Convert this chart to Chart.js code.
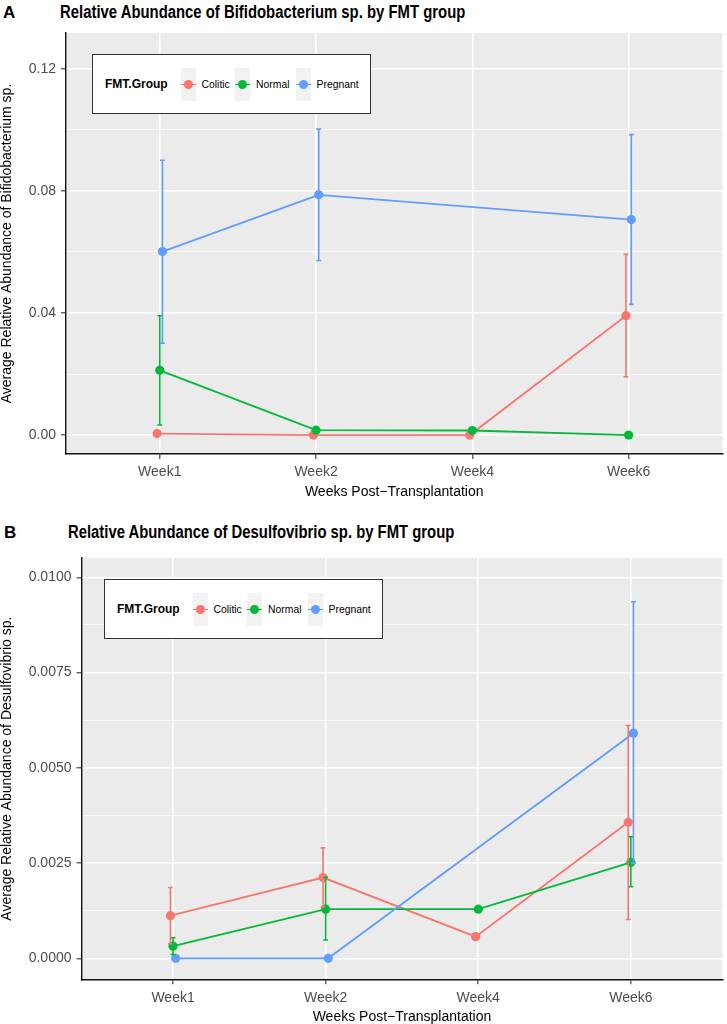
<!DOCTYPE html>
<html lang="en">
<head>
  <meta charset="UTF-8" />
  <title>Relative Abundance by FMT group</title>
  <script src="https://cdn.jsdelivr.net/npm/chart.js"></script>
  <style>
    body { margin: 0; background: #fff; font-family: 'Liberation Sans', Arial, Helvetica, sans-serif; }
    #page { position: relative; width: 727px; height: 1024px; overflow: hidden; }
    canvas { position: absolute; left: 0; }
    .letter, .title { position: absolute; font-weight: bold; color: #000; line-height: 1; white-space: nowrap; }
    .letter { font-size: 17px; }
    .title { font-size: 18px; transform-origin: left center; }
    .legend { position: absolute; width: 277px; height: 58px; background: #fff; border: 1px solid #333; }
    .legend span { position: absolute; top: 29px; transform: translateY(-50%); white-space: nowrap; }
    .legend .lt { font-weight: bold; font-size: 12px; left: 12px; }
    .legend .lab { font-size: 10.4px; color: #000; }
    .key { position: absolute; top: 13px; width: 15px; height: 33px; background: #F2F2F2; }
    .key i { position: absolute; left: 0; top: 15.6px; width: 15px; height: 1.8px; }
    .key b { position: absolute; left: 3px; top: 12px; width: 9px; height: 9px; border-radius: 50%; }
  </style>
</head>
<body>
<div id="page">
  <div class="letter" style="left:3px; top:4px;">A</div>
  <div class="title" id="titleA" style="left:60px; top:3px;">Relative Abundance of Bifidobacterium sp. by FMT group</div>
  <canvas id="chartA" width="727" height="512" style="top:0;"></canvas>
  <div class="legend" id="legendA" style="left:92px; top:54px;"></div>

  <div class="letter" style="left:4px; top:524px;">B</div>
  <div class="title" id="titleB" style="left:68px; top:523px;">Relative Abundance of Desulfovibrio sp. by FMT group</div>
  <canvas id="chartB" width="727" height="512" style="top:512px;"></canvas>
  <div class="legend" id="legendB" style="left:104px; top:579px;"></div>
</div>

<script>
  // categories and groups
  const weeks = ['Week1', 'Week2', 'Week4', 'Week6'];
  const groups = ['Colitic', 'Normal', 'Pregnant'];
  const groupColors = ['#F8766D', '#00BA38', '#619CFF'];

  // panel A: Bifidobacterium sp. (mean, lower, upper)
  const bifColitic    = [0.0005, 0.0000, 0.0000, 0.0391];
  const bifColiticLo  = [null, null, null, 0.0191];
  const bifColiticHi  = [null, null, null, 0.0592];
  const bifNormal     = [0.0212, 0.0016, 0.0015, 0.0000];
  const bifNormalLo   = [0.0033, null, null, null];
  const bifNormalHi   = [0.0391, null, null, null];
  const bifPregnant   = [0.0601, 0.0787, null, 0.0706];
  const bifPregnantLo = [0.0301, 0.0572, null, 0.0428];
  const bifPregnantHi = [0.0900, 0.1002, null, 0.0984];
  const bifTicks = [0, 0.02, 0.04, 0.06, 0.08, 0.10, 0.12];

  // panel B: Desulfovibrio sp.
  const desColitic    = [0.00112, 0.00212, 0.00057, 0.00357];
  const desColiticLo  = [0.00038, 0.00135, null, 0.00102];
  const desColiticHi  = [0.00186, 0.00290, null, 0.00611];
  const desNormal     = [0.00032, 0.00129, 0.00129, 0.00252];
  const desNormalLo   = [0.00010, 0.00048, null, 0.00188];
  const desNormalHi   = [0.00054, 0.00213, null, 0.00319];
  const desPregnant   = [0.00000, 0.00000, null, 0.00591];
  const desPregnantLo = [null, null, null, 0.00250];
  const desPregnantHi = [null, null, null, 0.00936];
  const desTicks = [0, 0.00125, 0.0025, 0.00375, 0.005, 0.00625, 0.0075, 0.00875, 0.01];

  const dodge = [-0.017, 0, 0.017];
  const FONT = "'Liberation Sans', Arial, Helvetica, sans-serif";

  const panelBg = {
    id: 'panelBg',
    beforeDraw(chart) {
      const { ctx, chartArea: a } = chart;
      ctx.save();
      ctx.fillStyle = '#EBEBEB';
      ctx.fillRect(a.left, a.top, a.right - a.left, a.bottom - a.top);
      ctx.restore();
    }
  };

  const errBars = {
    id: 'errBars',
    afterDatasetsDraw(chart) {
      const { ctx } = chart;
      const xs = chart.scales.x, ys = chart.scales.y;
      chart.data.datasets.forEach(ds => {
        if (!ds.errLo) return;
        ctx.save();
        ctx.strokeStyle = ds.backgroundColor;
        ctx.lineWidth = 1.6;
        ds.errLo.forEach((lo, j) => {
          const hi = ds.errHi[j];
          if (lo == null || hi == null) return;
          const x = xs.getPixelForValue(j + ds.dodge);
          const y1 = ys.getPixelForValue(lo), y2 = ys.getPixelForValue(hi);
          ctx.beginPath();
          ctx.moveTo(x, y1); ctx.lineTo(x, y2);
          ctx.moveTo(x - 2.4, y1); ctx.lineTo(x + 2.4, y1);
          ctx.moveTo(x - 2.4, y2); ctx.lineTo(x + 2.4, y2);
          ctx.stroke();
        });
        ctx.restore();
      });
    }
  };

  function points(vals, g) {
    const out = [];
    vals.forEach((v, j) => { if (v != null) out.push({ x: j + dodge[g], y: v }); });
    return out;
  }

  function makePanel(id, series, lows, highs, gridVals, majorStep, digits, yMin, yMax, yTitle, geo) {
    const isMajor = v => Math.abs(v / majorStep - Math.round(v / majorStep)) < 1e-6;
    const datasets = [];
    series.forEach((vals, g) => {
      datasets.push({
        type: 'scatter', showLine: true, data: points(vals, g),
        borderColor: groupColors[g], borderWidth: 1.8, pointRadius: 0, order: 10 - g
      });
    });
    series.forEach((vals, g) => {
      datasets.push({
        type: 'scatter', showLine: false, data: points(vals, g),
        backgroundColor: groupColors[g], pointRadius: 4.6, pointBorderWidth: 0,
        pointHoverRadius: 4.6, order: 5 - g,
        errLo: lows[g], errHi: highs[g], dodge: dodge[g]
      });
    });

    return new Chart(document.getElementById(id), {
      type: 'scatter',
      data: { datasets },
      plugins: [panelBg, errBars],
      options: {
        responsive: false,
        animation: false,
        events: [],
        layout: { padding: { top: geo.top, right: 0, left: 0, bottom: 0 } },
        plugins: { legend: { display: false }, tooltip: { enabled: false } },
        scales: {
          x: {
            type: 'linear', min: -0.6, max: 3.6,
            afterBuildTicks: s => { s.ticks = weeks.map((w, i) => ({ value: i })); },
            afterFit: s => { s.height = geo.xHeight; },
            ticks: {
              autoSkip: false, maxRotation: 0, padding: 5, color: '#4D4D4D',
              font: { family: FONT, size: 14 },
              callback: v => weeks[v]
            },
            grid: { color: '#FFFFFF', lineWidth: 1.6, tickColor: '#333333', tickWidth: 1.1, tickLength: 5 },
            border: { display: true, color: '#111111', width: 1.4 },
            title: {
              display: true, text: 'Weeks Post\u2212Transplantation', color: '#000',
              font: { family: FONT, size: 14, lineHeight: 1 }, padding: { top: 0, bottom: geo.xTitlePad }
            }
          },
          y: {
            type: 'linear', min: yMin, max: yMax,
            afterBuildTicks: s => { s.ticks = gridVals.map(v => ({ value: v })); },
            afterFit: s => { s.width = geo.yWidth; },
            ticks: {
              autoSkip: false, padding: 5, color: '#4D4D4D',
              font: { family: FONT, size: 14 },
              callback: v => isMajor(v) ? v.toFixed(digits) : ''
            },
            grid: {
              color: '#FFFFFF',
              lineWidth: c => isMajor(c.tick.value) ? 1.6 : 0.8,
              tickColor: c => isMajor(c.tick.value) ? '#333333' : 'rgba(0,0,0,0)',
              tickWidth: 1.1, tickLength: 5
            },
            border: { display: true, color: '#111111', width: 1.4 },
            title: {
              display: true, text: yTitle, color: '#000',
              font: { family: FONT, size: 14, lineHeight: 1 }, padding: { top: 0, bottom: 0 }
            }
          }
        }
      }
    });
  }

  makePanel('chartA',
    [bifColitic, bifNormal, bifPregnant],
    [bifColiticLo, bifNormalLo, bifPregnantLo],
    [bifColiticHi, bifNormalHi, bifPregnantHi],
    bifTicks, 0.04, 2, -0.0062, 0.1317,
    'Average Relative Abundance of Bifidobacterium sp.',
    { top: 33, yWidth: 66, xHeight: 58, xTitlePad: 13 });

  makePanel('chartB',
    [desColitic, desNormal, desPregnant],
    [desColiticLo, desNormalLo, desPregnantLo],
    [desColiticHi, desNormalHi, desPregnantHi],
    desTicks, 0.0025, 4, -0.00055, 0.010507,
    'Average Relative Abundance of Desulfovibrio sp.',
    { top: 46, yWidth: 81.5, xHeight: 44.7, xTitlePad: 0 });

  // legends
  function buildLegend(el) {
    const keyX = [87.5, 142, 202.5];
    let html = '<span class="lt">FMT.Group</span>';
    groups.forEach((g, i) => {
      html += `<div class="key" style="left:${keyX[i]}px"><i style="background:${groupColors[i]}"></i><b style="background:${groupColors[i]}"></b></div>`;
      html += `<span class="lab" style="left:${keyX[i] + 21}px">${g}</span>`;
    });
    el.innerHTML = html;
  }
  buildLegend(document.getElementById('legendA'));
  buildLegend(document.getElementById('legendB'));

  // titles squeezed to the width they have in the figure
  [['titleA', 405], ['titleB', 386]].forEach(([id, w]) => {
    const el = document.getElementById(id);
    el.style.transform = `scaleX(${w / el.offsetWidth})`;
  });
</script>
</body>
</html>
